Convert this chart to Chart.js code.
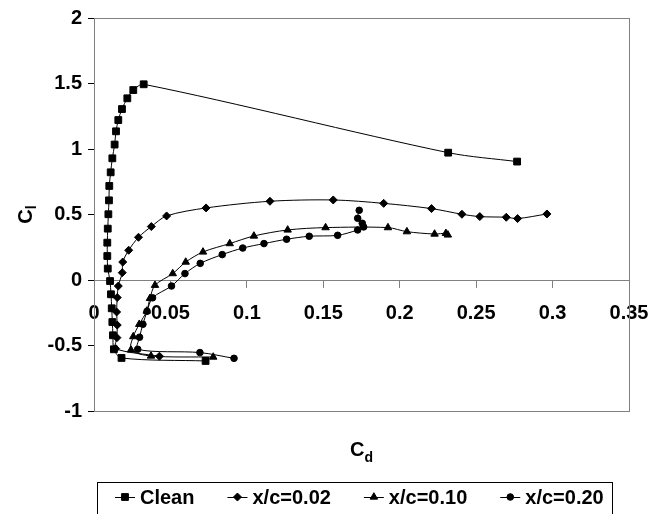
<!DOCTYPE html>
<html>
<head>
<meta charset="utf-8">
<script src="https://cdn.jsdelivr.net/npm/chart.js@4.4.0/dist/chart.umd.min.js"></script>
<style>
  html, body { margin: 0; padding: 0; background: #fff; }
  #wrap { width: 664px; height: 514px; }
</style>
</head>
<body>
<div id="wrap"><canvas id="chart" width="664" height="514"></canvas></div>
<script>
// Cl vs Cd polars
const seriesNames = ['Clean', 'x/c=0.02', 'x/c=0.10', 'x/c=0.20'];

const cleanCd = [0.073, 0.018, 0.013, 0.0124, 0.012, 0.0116, 0.0111, 0.0105, 0.009, 0.0087, 0.0087, 0.009, 0.0094,
  0.0098, 0.010, 0.0109, 0.012, 0.0135, 0.0144, 0.0159, 0.0183, 0.0218, 0.0257, 0.0325, 0.2317, 0.2768];
const cleanCl = [-0.618, -0.595, -0.529, -0.422, -0.321, -0.216, -0.109, -0.008, 0.087, 0.183, 0.285, 0.392, 0.502,
  0.608, 0.718, 0.822, 0.929, 1.034, 1.135, 1.221, 1.305, 1.387, 1.450, 1.494, 0.972, 0.904];

const x02Cd = [0.0428, 0.0142, 0.0150, 0.0152, 0.0148, 0.0152, 0.0159, 0.0185, 0.0188, 0.0227, 0.0291, 0.0375,
  0.0475, 0.0733, 0.1151, 0.1565, 0.1895, 0.2208, 0.2407, 0.2524, 0.2697, 0.2771, 0.2963];
const x02Cl = [-0.582, -0.524, -0.440, -0.344, -0.244, -0.134, -0.046, 0.056, 0.137, 0.227, 0.326, 0.408,
  0.489, 0.550, 0.601, 0.611, 0.585, 0.545, 0.502, 0.484, 0.479, 0.469, 0.504];

const x10Cd = [0.0780, 0.0373, 0.0242, 0.0257, 0.0296, 0.0345, 0.0366, 0.0399, 0.0515, 0.0600, 0.0713, 0.0888,
  0.1046, 0.1267, 0.1515, 0.1923, 0.2047, 0.2228, 0.2302, 0.2315];
const x10Cl = [-0.588, -0.580, -0.534, -0.432, -0.338, -0.237, -0.140, -0.040, 0.049, 0.137, 0.214, 0.278,
  0.336, 0.382, 0.400, 0.400, 0.369, 0.351, 0.356, 0.344];

const x20Cd = [0.0916, 0.0693, 0.0286, 0.0298, 0.0320, 0.0347, 0.0383, 0.0507, 0.0595, 0.0695, 0.0839, 0.0973,
  0.1112, 0.1260, 0.1408, 0.1594, 0.1725, 0.1764, 0.1755, 0.1725, 0.1735];
const x20Cl = [-0.598, -0.554, -0.529, -0.437, -0.338, -0.239, -0.136, -0.046, 0.049, 0.127, 0.194, 0.244,
  0.278, 0.311, 0.334, 0.341, 0.382, 0.405, 0.433, 0.471, 0.532];

const xTickLabels = ['0', '0.05', '0.1', '0.15', '0.2', '0.25', '0.3', '0.35'];
const yTickLabels = ['-1', '-0.5', '0', '0.5', '1', '1.5', '2'];

const FONT = 'Liberation Sans, Arial, sans-serif';

function pairs(xs, ys) {
  return xs.map((x, i) => ({ x: x, y: ys[i] }));
}

function series(label, xs, ys, style, radius) {
  return {
    label: label,
    data: pairs(xs, ys),
    showLine: true,
    tension: 0.3,
    borderColor: '#000',
    borderWidth: 1,
    pointStyle: style,
    pointRadius: radius,
    pointBackgroundColor: '#000',
    pointBorderColor: '#000',
    pointBorderWidth: 1
  };
}

const datasets = [
  series(seriesNames[0], cleanCd, cleanCl, 'rect', 4.8),
  series(seriesNames[1], x02Cd, x02Cl, 'rectRot', 4),
  series(seriesNames[2], x10Cd, x10Cl, 'triangle', 4.3),
  series(seriesNames[3], x20Cd, x20Cl, 'circle', 3.3)
];

// gray frame round the plot area
const frame = {
  id: 'frame',
  beforeDatasetsDraw(chart) {
    const a = chart.chartArea, ctx = chart.ctx;
    ctx.save();
    ctx.strokeStyle = '#808080';
    ctx.lineWidth = 1;
    ctx.strokeRect(Math.round(a.left) + 0.5, Math.round(a.top) + 0.5,
      Math.round(a.right - a.left), Math.round(a.bottom - a.top));
    ctx.restore();
  }
};

// axis titles with subscripts
const titles = {
  id: 'titles',
  afterDraw(chart) {
    const a = chart.chartArea, ctx = chart.ctx;
    ctx.save();
    ctx.fillStyle = '#000';
    ctx.textBaseline = 'alphabetic';
    ctx.textAlign = 'left';

    // C_d under the plot
    ctx.font = 'bold 20px ' + FONT;
    const cw = ctx.measureText('C').width;
    ctx.font = 'bold 14px ' + FONT;
    const dw = ctx.measureText('d').width;
    const cx = (a.left + a.right) / 2 - (cw + dw) / 2;
    ctx.font = 'bold 20px ' + FONT;
    ctx.fillText('C', cx, 456);
    ctx.font = 'bold 14px ' + FONT;
    ctx.fillText('d', cx + cw, 462);

    // C_l rotated on the left
    ctx.translate(32, (a.top + a.bottom) / 2);
    ctx.rotate(-Math.PI / 2);
    ctx.font = 'bold 14px ' + FONT;
    const lw = ctx.measureText('l').width;
    ctx.font = 'bold 20px ' + FONT;
    const sx = -(cw + lw) / 2;
    ctx.fillText('C', sx, 0);
    ctx.font = 'bold 14px ' + FONT;
    ctx.fillText('l', sx + cw, 4);
    ctx.restore();
  }
};

// boxed legend along the bottom edge
const legendBox = {
  id: 'legendBox',
  afterDraw(chart) {
    const ctx = chart.ctx;
    ctx.save();
    ctx.strokeStyle = '#000';
    ctx.lineWidth = 1;
    ctx.strokeRect(97.5, 482.5, 515, 40);
    ctx.font = 'bold 20px ' + FONT;
    ctx.textBaseline = 'alphabetic';
    ctx.textAlign = 'left';
    let mx = 125;
    const my = 497;
    chart.data.datasets.forEach((ds) => {
      ctx.strokeStyle = '#000';
      ctx.beginPath();
      ctx.moveTo(mx - 10, my + 0.5);
      ctx.lineTo(mx + 10, my + 0.5);
      ctx.stroke();
      ctx.fillStyle = '#000';
      Chart.helpers.drawPoint(ctx, {
        pointStyle: ds.pointStyle, radius: ds.pointRadius, rotation: 0, borderWidth: 1
      }, mx, my);
      const tx = mx + 15;
      ctx.fillStyle = '#000';
      ctx.fillText(ds.label, tx, 504);
      mx = tx + ctx.measureText(ds.label).width + 43;
    });
    ctx.restore();
  }
};

new Chart(document.getElementById('chart'), {
  type: 'scatter',
  data: { datasets: datasets },
  plugins: [frame, titles, legendBox],
  options: {
    responsive: false,
    animation: false,
    events: [],
    layout: { padding: { left: 0, top: 18, right: 35, bottom: 103 } },
    plugins: {
      legend: { display: false },
      tooltip: { enabled: false }
    },
    scales: {
      x: {
        type: 'linear',
        position: { y: 0 },
        min: 0,
        max: 0.35,
        border: { color: '#808080', width: 1 },
        grid: { drawOnChartArea: false, tickLength: 7, color: '#808080' },
        ticks: {
          stepSize: 0.05,
          padding: 14,
          color: '#000',
          font: { family: FONT, size: 20, weight: 'bold' },
          maxRotation: 0,
          autoSkip: false,
          callback: (v, i) => xTickLabels[i]
        }
      },
      y: {
        type: 'linear',
        position: 'left',
        min: -1,
        max: 2,
        afterFit: (scale) => { scale.width = 94; },
        border: { color: '#000', width: 1 },
        grid: { drawOnChartArea: false, tickLength: 6, color: '#000' },
        ticks: {
          stepSize: 0.5,
          padding: 6,
          color: '#000',
          font: { family: FONT, size: 20, weight: 'bold' },
          callback: (v, i) => yTickLabels[i]
        }
      }
    }
  }
});
</script>
</body>
</html>
